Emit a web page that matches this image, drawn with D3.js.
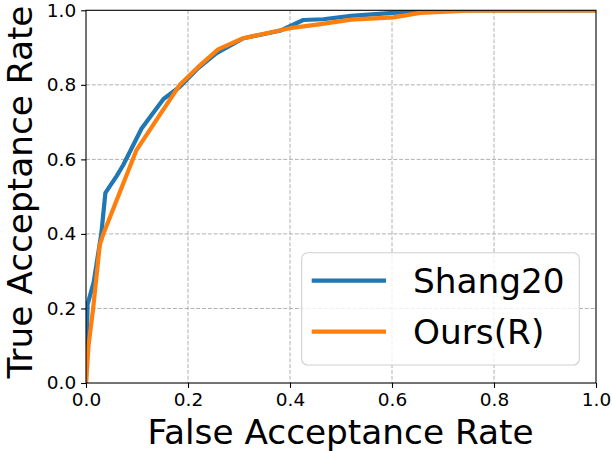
<!DOCTYPE html>
<html>
  <head>
    <style>
      body { margin: 0; background: #fff; }
      text { font-family: "DejaVu Sans", sans-serif; }
    </style>
  </head>

  <body>

    <svg class="surface" width="612" height="451"></svg>

    <script src="https://cdn.jsdelivr.net/npm/d3@7/dist/d3.min.js" charset="utf-8"></script>
    <script>

      // ROC points: [FAR, TAR]
      const shang20 = [[0, 0], [0.003, 0.21], [0.015, 0.27], [0.03, 0.40], [0.038, 0.51],
        [0.06, 0.555], [0.073, 0.585], [0.109, 0.683], [0.152, 0.762], [0.184, 0.795],
        [0.22, 0.845], [0.256, 0.885], [0.309, 0.925], [0.38, 0.945], [0.426, 0.974],
        [0.465, 0.976], [0.52, 0.985], [0.63, 0.996], [0.66, 1.0], [1.0, 1.0]]
      const oursR = [[0, 0], [0.005, 0.1], [0.014, 0.2], [0.027, 0.37], [0.034, 0.40],
        [0.06, 0.49], [0.099, 0.625], [0.145, 0.72], [0.184, 0.80], [0.224, 0.853],
        [0.259, 0.895], [0.308, 0.925], [0.4, 0.952], [0.46, 0.963], [0.52, 0.975],
        [0.603, 0.981], [0.655, 0.993], [0.75, 0.999], [1.0, 1.0]]
      const seriesNames = ['Shang20', 'Ours(R)']
      const ticks = [0, 0.2, 0.4, 0.6, 0.8, 1.0]

      const colors = ['#1f77b4', '#ff7f0e']
      const m = { left: 86, top: 10.3, right: 596, bottom: 383 }
      const bigFont = '34.3px'

      const svg = d3.select('.surface')
      const x = d3.scaleLinear().domain([0, 1]).range([m.left, m.right])
      const y = d3.scaleLinear().domain([0, 1]).range([m.bottom, m.top])

      svg.append('defs').append('clipPath').attr('id', 'plot')
        .append('rect')
          .attr('x', m.left).attr('y', m.top)
          .attr('width', m.right - m.left).attr('height', m.bottom - m.top)

      // grid
      const grid = svg.append('g')
        .attr('stroke', '#b0b0b0')
        .attr('stroke-width', 1)
        .attr('stroke-dasharray', '4,1.8')
      grid.selectAll('.gx').data(ticks.slice(1, -1)).enter().append('line')
        .attr('x1', d => x(d)).attr('x2', d => x(d))
        .attr('y1', m.top).attr('y2', m.bottom)
      grid.selectAll('.gy').data(ticks.slice(1, -1)).enter().append('line')
        .attr('y1', d => y(d)).attr('y2', d => y(d))
        .attr('x1', m.left).attr('x2', m.right)

      // curves
      const line = d3.line().x(d => x(d[0])).y(d => y(d[1]))
      svg.append('g').attr('clip-path', 'url(#plot)')
        .selectAll('path')
        .data([shang20, oursR])
        .enter().append('path')
          .attr('d', line)
          .attr('fill', 'none')
          .attr('stroke', (d, i) => colors[i])
          .attr('stroke-width', 4.2)
          .attr('stroke-linejoin', 'round')

      // axes
      const fmt = d3.format('.1f')
      const xAxis = svg.append('g')
        .attr('transform', `translate(0,${m.bottom})`)
        .call(d3.axisBottom(x).tickValues(ticks).tickFormat(fmt).tickSize(4.9).tickPadding(4.9))
      const yAxis = svg.append('g')
        .attr('transform', `translate(${m.left},0)`)
        .call(d3.axisLeft(y).tickValues(ticks).tickFormat(fmt).tickSize(4.9).tickPadding(4.9))

      ;[xAxis, yAxis].forEach(a => {
        a.select('.domain').remove()
        a.selectAll('line').attr('stroke', '#000').attr('stroke-width', 1.1)
        a.selectAll('text').attr('fill', '#000').style('font-size', '18.5px')
          .style('font-family', '"DejaVu Sans", sans-serif')
      })

      svg.append('rect')
        .attr('x', m.left).attr('y', m.top)
        .attr('width', m.right - m.left).attr('height', m.bottom - m.top)
        .attr('fill', 'none').attr('stroke', '#000').attr('stroke-width', 1.1)

      // labels
      svg.append('text')
        .attr('x', 340.5).attr('y', 444)
        .attr('text-anchor', 'middle')
        .style('font-size', bigFont)
        .text('False Acceptance Rate')

      svg.append('text')
        .attr('transform', 'translate(31.5,192) rotate(-90)')
        .attr('text-anchor', 'middle')
        .style('font-size', bigFont)
        .text('True Acceptance Rate')

      // legend
      const legend = svg.append('g')
      legend.append('rect')
        .attr('x', 301.7).attr('y', 252.7)
        .attr('width', 277.6).attr('height', 112.3)
        .attr('rx', 6).attr('ry', 6)
        .attr('fill', 'rgba(255,255,255,0.8)')
        .attr('stroke', '#d0d0d0').attr('stroke-width', 1.1)

      const items = legend.selectAll('.item').data(seriesNames).enter().append('g')
        .attr('transform', (d, i) => `translate(0,${280.7 + i * 51})`)
      items.append('line')
        .attr('x1', 311.7).attr('x2', 386)
        .attr('stroke', (d, i) => colors[i])
        .attr('stroke-width', 4.2)
      items.append('text')
        .attr('x', 413).attr('y', 12.5)
        .style('font-size', bigFont)
        .text(d => d)

    </script>
  </body>

</html>
